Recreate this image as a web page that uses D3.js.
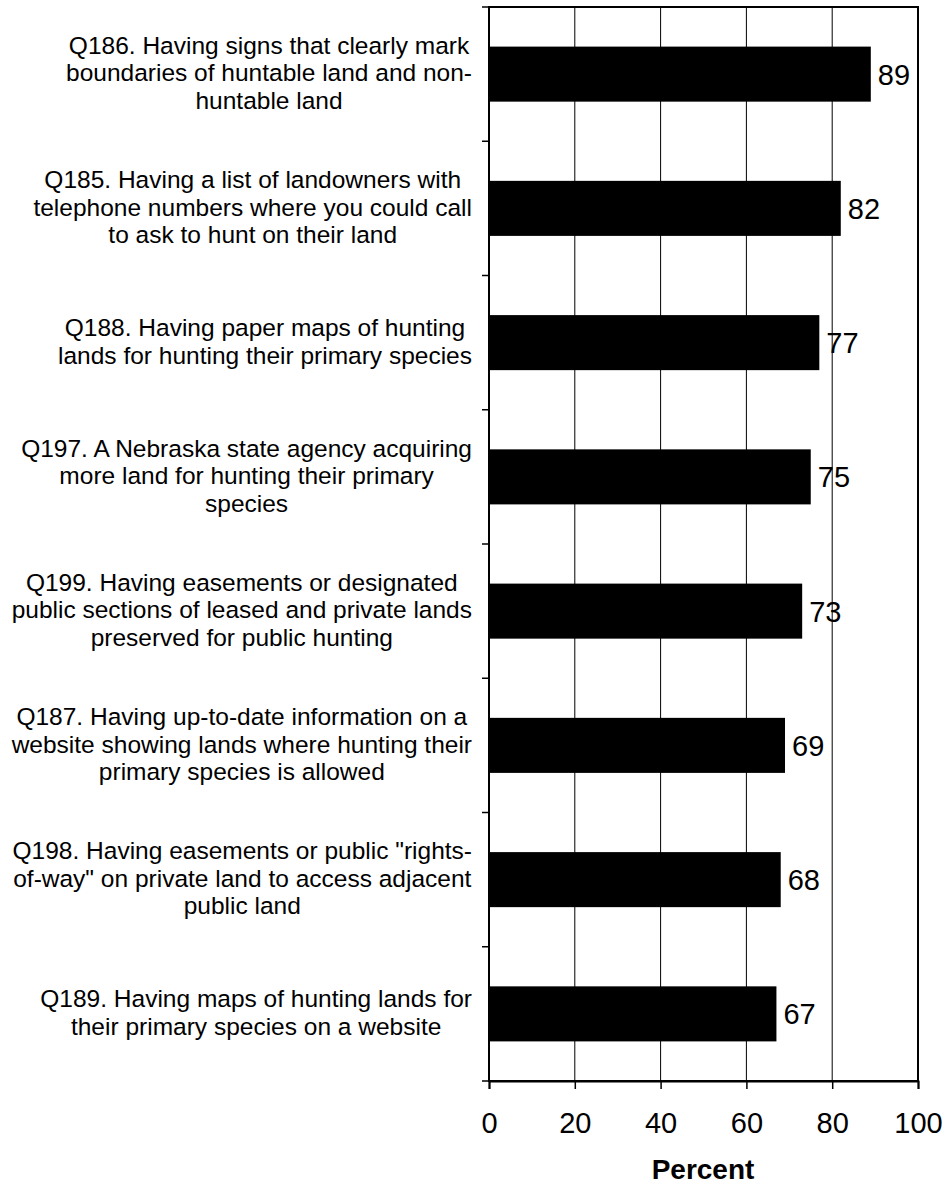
<!DOCTYPE html>
<html><head><meta charset="utf-8">
<script src="https://cdn.jsdelivr.net/npm/d3@7"></script>
<style>body{margin:0;background:#fff}svg{display:block}</style>
</head><body>
<svg id="c" width="946" height="1187"></svg>
<script>
const categories = [
  ["Q186. Having signs that clearly mark", "boundaries of huntable land and non-", "huntable land"],
  ["Q185. Having a list of landowners with", "telephone numbers where you could call", "to ask to hunt on their land"],
  ["Q188. Having paper maps of hunting", "lands for hunting their primary species"],
  ["Q197. A Nebraska state agency acquiring", "more land for hunting their primary", "species"],
  ["Q199. Having easements or designated", "public sections of leased and private lands", "preserved for public hunting"],
  ["Q187. Having up-to-date information on a", "website showing lands where hunting their", "primary species is allowed"],
  ["Q198. Having easements or public \"rights-", "of-way\" on private land to access adjacent", "public land"],
  ["Q189. Having maps of hunting lands for", "their primary species on a website"]
];
const values = [89, 82, 77, 75, 73, 69, 68, 67];
const xTicks = [0, 20, 40, 60, 80, 100];
const xTitle = "Percent";

const svg = d3.select("#c");
const L = 489, R = 918, T = 7, B = 1081;
const font = "'Liberation Sans', Arial, sans-serif";
const idx = d3.range(values.length);
const x = d3.scaleLinear().domain([0, 100]).range([L, R]);
const y = d3.scaleBand().domain(idx).range([T, B]).paddingInner(0.59).paddingOuter(0.295);
const band = (B - T) / values.length;

// gridlines
svg.append("g").selectAll("line").data(xTicks.filter(d => d > 0 && d < 100)).join("line")
  .attr("x1", d => x(d)).attr("x2", d => x(d)).attr("y1", T).attr("y2", B)
  .attr("stroke", "#000").attr("stroke-width", 1);

// bars
svg.append("g").selectAll("rect").data(idx).join("rect")
  .attr("x", x(0)).attr("y", i => y(i)).attr("width", i => x(values[i]) - x(0))
  .attr("height", y.bandwidth()).attr("fill", "#000");

// plot frame
svg.append("rect").attr("x", L).attr("y", T).attr("width", R - L).attr("height", B - T)
  .attr("fill", "none").attr("stroke", "#000").attr("stroke-width", 2);

// x axis
const xAxis = d3.axisBottom(x).tickValues(xTicks).tickSize(8).tickPadding(23).tickFormat(d3.format("d"));
const gx = svg.append("g").attr("transform", `translate(0,${B})`).call(xAxis);
gx.select(".domain").attr("stroke-width", 2);
gx.selectAll(".tick line").attr("stroke-width", 1.5);
gx.selectAll("text").attr("font-family", font).attr("font-size", 29).attr("fill", "#000");

// y ticks (category boundaries)
const yBounds = d3.range(values.length + 1).map(i => T + i * band);
svg.append("g").selectAll("line").data(yBounds).join("line")
  .attr("x1", L - 7).attr("x2", L).attr("y1", d => d).attr("y2", d => d)
  .attr("stroke", "#000").attr("stroke-width", 1.5);

// value labels
svg.append("g").selectAll("text").data(idx).join("text")
  .attr("x", i => x(values[i]) + 7).attr("y", i => y(i) + y.bandwidth() / 2)
  .attr("dy", "0.36em").attr("font-family", font).attr("font-size", 29).attr("fill", "#000")
  .text(i => values[i]);

// category labels
const lh = 27.5;
const rightEdge = 472;
idx.forEach(i => {
  const lines = categories[i];
  const cy = y(i) + y.bandwidth() / 2 - 1.5;
  const g = svg.append("g");
  const ts = lines.map((ln, k) => g.append("text")
    .attr("font-family", font).attr("font-size", 24.5).attr("fill", "#000")
    .attr("text-anchor", "middle")
    .attr("y", cy + (k - (lines.length - 1) / 2) * lh).attr("dy", "0.36em")
    .text(ln));
  const maxW = d3.max(ts, t => t.node().getComputedTextLength());
  ts.forEach(t => t.attr("x", rightEdge - maxW / 2));
});

// axis title
svg.append("text").attr("x", 703).attr("y", 1179)
  .attr("text-anchor", "middle").attr("font-family", font).attr("font-size", 28)
  .attr("font-weight", "bold").attr("fill", "#000").text(xTitle);
</script>
</body></html>
